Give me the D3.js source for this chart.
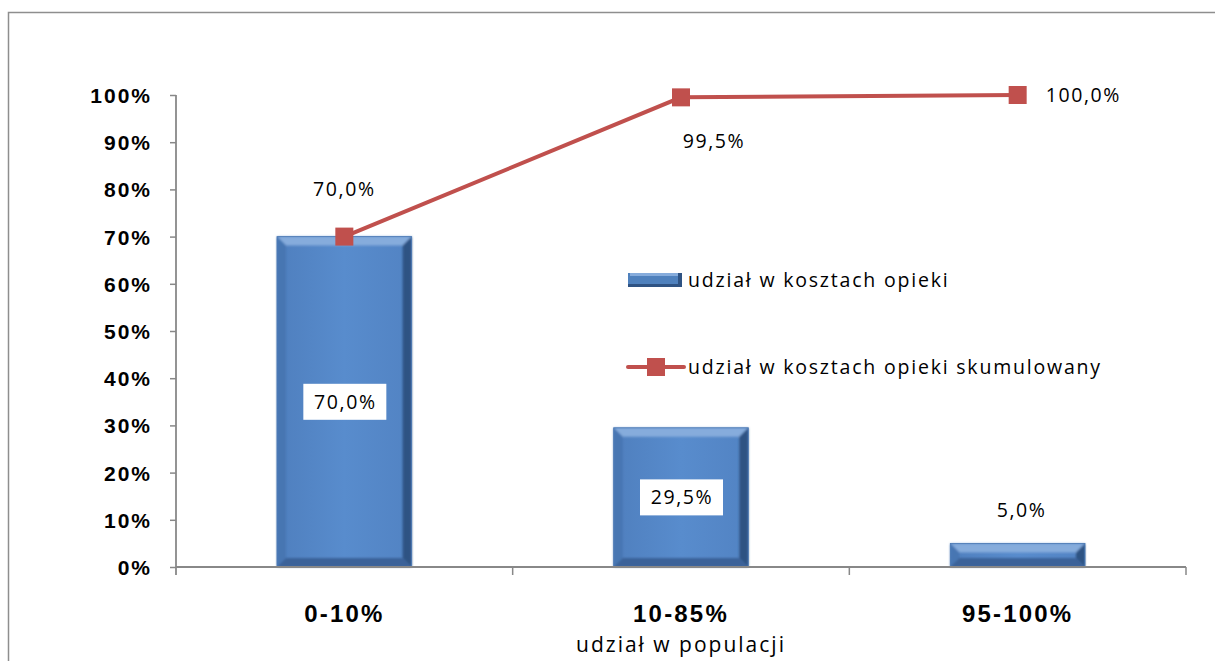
<!DOCTYPE html>
<html><head><meta charset="utf-8">
<script src="https://cdn.jsdelivr.net/npm/d3@7"></script>
<style>
html,body{margin:0;padding:0;background:#fff;}
svg{display:block;}
text{font-family:"Open Sans","DejaVu Sans",sans-serif;}
</style></head>
<body><svg id="c" width="1215" height="661"></svg>
<script>
const categories = ["0-10%", "10-85%", "95-100%"];
const barValues = [0.70, 0.295, 0.05];
const cumValues = [0.70, 0.995, 1.00];
const barLabels = ["70,0%", "29,5%", "5,0%"];
const cumLabels = ["70,0%", "99,5%", "100,0%"];
const yTicks = [0, 0.1, 0.2, 0.3, 0.4, 0.5, 0.6, 0.7, 0.8, 0.9, 1.0];
const xTitle = "udział w populacji";
const seriesNames = ["udział w kosztach opieki", "udział w kosztach opieki skumulowany"];

const svg = d3.select("#c");
const red = "#c0504d";
const FS = 19.5, LS = 1.6;

svg.append("rect").attr("x", 8.5).attr("y", 12.5).attr("width", 1220).attr("height", 700)
  .attr("fill", "none").attr("stroke", "#8e8e8e").attr("stroke-width", 1.5);

const x = d3.scaleBand().domain(categories).range([176, 1186]).paddingInner(0.6).paddingOuter(0.3);
const xOuter = d3.scaleBand().domain(categories).range([176, 1186]);
const y = d3.scaleLinear().domain([0, 1]).range([567, 95]);

const defs = svg.append("defs");
const g1 = defs.append("linearGradient").attr("id", "barg").attr("x1", 0).attr("x2", 1).attr("y1", 0).attr("y2", 0);
g1.append("stop").attr("offset", "0%").attr("stop-color", "#4f7fbe");
g1.append("stop").attr("offset", "50%").attr("stop-color", "#588ccd");
g1.append("stop").attr("offset", "100%").attr("stop-color", "#5283c3");
const f = defs.append("filter").attr("id", "blur").attr("x", "-10%").attr("y", "-10%").attr("width", "120%").attr("height", "120%");
f.append("feGaussianBlur").attr("stdDeviation", 1.2);

const yAxis = svg.append("g").attr("transform", "translate(176,0)")
  .call(d3.axisLeft(y).tickValues(yTicks).tickSize(6).tickFormat(d3.format(".0%")));
yAxis.select(".domain").remove();
yAxis.selectAll(".tick line").attr("stroke", "#888").attr("stroke-width", 1.5);
yAxis.selectAll(".tick text").attr("x", -24).attr("dy", "0.36em")
  .attr("font-size", 21).attr("font-weight", "bold").attr("fill", "#000")
  .attr("letter-spacing", 2)
  .style("font-family", "'Liberation Sans', Arial, sans-serif");
svg.append("line").attr("x1", 176).attr("x2", 176).attr("y1", y(1)).attr("y2", y(0) + 8)
  .attr("stroke", "#888").attr("stroke-width", 1.8);

const bars = svg.append("g");
categories.forEach((c, i) => {
  const x0 = x(c), w = x.bandwidth(), y0 = y(barValues[i]), y1 = y(0);
  const b = Math.min(9, (y1 - y0) / 2 - 1);
  const gg = bars.append("g");
  gg.append("rect").attr("x", x0).attr("y", y0).attr("width", w).attr("height", y1 - y0).attr("fill", "url(#barg)");
  const bl = gg.append("g").attr("filter", "url(#blur)");
  bl.append("polygon").attr("points", [[x0, y0], [x0 + w, y0], [x0 + w - b, y0 + b], [x0 + b, y0 + b]].join(" ")).attr("fill", "#86acdc");
  bl.append("polygon").attr("points", [[x0, y0], [x0 + b, y0 + b], [x0 + b, y1 - b], [x0, y1]].join(" ")).attr("fill", "#4776b2");
  bl.append("polygon").attr("points", [[x0 + w, y0], [x0 + w, y1], [x0 + w - b, y1 - b], [x0 + w - b, y0 + b]].join(" ")).attr("fill", "#2f5383");
  bl.append("polygon").attr("points", [[x0, y1], [x0 + w, y1], [x0 + w - b, y1 - b], [x0 + b, y1 - b]].join(" ")).attr("fill", "#3b6299");
  gg.append("rect").attr("x", x0).attr("y", y0).attr("width", w).attr("height", y1 - y0)
    .attr("fill", "none").attr("stroke", "#4a78b3").attr("stroke-width", 0.8);
});

svg.append("line").attr("x1", 176).attr("x2", 1186).attr("y1", y(0)).attr("y2", y(0)).attr("stroke", "#888").attr("stroke-width", 1.8);
categories.forEach((c, i) => {
  const xb = xOuter(c) + xOuter.bandwidth();
  svg.append("line").attr("x1", xb).attr("x2", xb).attr("y1", y(0)).attr("y2", y(0) + 8).attr("stroke", "#888").attr("stroke-width", 1.5);
  svg.append("text").attr("x", xOuter(c) + xOuter.bandwidth() / 2).attr("y", 622)
    .attr("text-anchor", "middle").attr("font-size", 24).attr("font-weight", "bold").attr("letter-spacing", 2.2)
    .style("font-family", "'Liberation Sans', Arial, sans-serif").text(c);
});
svg.append("text").attr("x", xOuter(categories[1]) + xOuter.bandwidth() / 2).attr("y", 652)
  .attr("text-anchor", "middle").attr("font-size", 21).attr("letter-spacing", 2).text(xTitle);

categories.forEach((c, i) => {
  const cx = x(c) + x.bandwidth() / 2;
  if (i < 2) {
    const cy = (y(barValues[i]) + y(0)) / 2;
    svg.append("rect").attr("x", cx - 41).attr("y", cy - 18).attr("width", 83).attr("height", 36).attr("fill", "#fff");
    svg.append("text").attr("x", cx + 1).attr("y", cy).attr("dy", "0.36em").attr("text-anchor", "middle").attr("font-size", FS).attr("letter-spacing", LS).text(barLabels[i]);
  } else {
    svg.append("text").attr("x", cx + 4).attr("y", y(barValues[i]) - 33).attr("dy", "0.36em").attr("text-anchor", "middle").attr("font-size", FS).attr("letter-spacing", LS).text(barLabels[i]);
  }
});

const cx = c => x(c) + x.bandwidth() / 2;
const line = d3.line().x(d => cx(d[0])).y(d => y(d[1]));
svg.append("path").datum(categories.map((c, i) => [c, cumValues[i]])).attr("d", line)
  .attr("fill", "none").attr("stroke", red).attr("stroke-width", 4);
categories.forEach((c, i) => {
  svg.append("rect").attr("x", cx(c) - 9).attr("y", y(cumValues[i]) - 9).attr("width", 18).attr("height", 18).attr("fill", red);
});
svg.append("text").attr("x", cx(categories[0])).attr("y", y(cumValues[0]) - 48).attr("dy", "0.36em").attr("text-anchor", "middle").attr("font-size", FS).attr("letter-spacing", LS).text(cumLabels[0]);
svg.append("text").attr("x", cx(categories[1]) + 33).attr("y", y(cumValues[1]) + 44).attr("dy", "0.36em").attr("text-anchor", "middle").attr("font-size", FS).attr("letter-spacing", LS).text(cumLabels[1]);
svg.append("text").attr("x", cx(categories[2]) + 28).attr("y", y(cumValues[2])).attr("dy", "0.36em").attr("text-anchor", "start").attr("font-size", FS).attr("letter-spacing", LS).text(cumLabels[2]);

const lg = svg.append("g");
const lx = 628, ly1 = 280, ly2 = 367;
const lb = lg.append("g");
lb.append("rect").attr("x", lx).attr("y", ly1 - 7).attr("width", 54).attr("height", 14).attr("fill", "#4f81bd");
lb.append("rect").attr("x", lx + 2).attr("y", ly1 - 7).attr("width", 50).attr("height", 3).attr("fill", "#86acdc");
lb.append("rect").attr("x", lx).attr("y", ly1 + 4).attr("width", 54).attr("height", 3).attr("fill", "#2f5383");
lb.append("rect").attr("x", lx + 50).attr("y", ly1 - 7).attr("width", 4).attr("height", 14).attr("fill", "#2f5383");
lg.append("text").attr("x", 688).attr("y", ly1).attr("dy", "0.36em").attr("font-size", FS).attr("letter-spacing", 1.8).text(seriesNames[0]);
lg.append("line").attr("x1", lx).attr("x2", lx + 56).attr("y1", ly2).attr("y2", ly2).attr("stroke", red).attr("stroke-width", 4).attr("stroke-linecap", "round");
lg.append("rect").attr("x", lx + 19).attr("y", ly2 - 9).attr("width", 18).attr("height", 18).attr("fill", red);
lg.append("text").attr("x", 688).attr("y", ly2).attr("dy", "0.36em").attr("font-size", FS).attr("letter-spacing", 1.8).text(seriesNames[1]);
</script></body></html>
